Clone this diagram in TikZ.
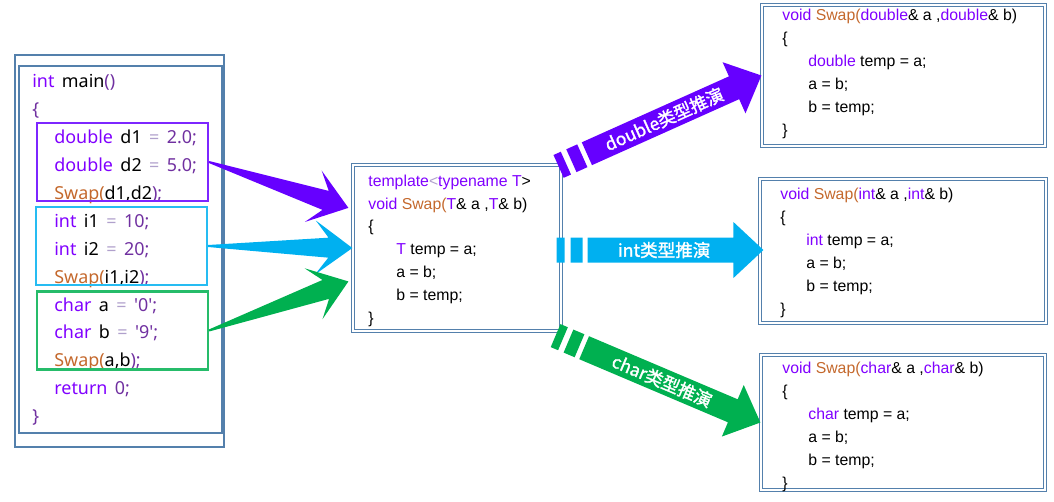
\documentclass[tikz,border=0pt]{standalone}
\usepackage{fontspec}
\usetikzlibrary{calc}
\newfontfamily\yahei{Noto Sans}[WordSpace=1.6]
\newfontfamily\codefont{Liberation Sans}
\newfontfamily\cjk{Noto Sans CJK SC}[AutoFakeBold=1.5]
\definecolor{frame}{RGB}{84,128,172}
\definecolor{kwcol}{RGB}{128,0,255}
\definecolor{fncol}{RGB}{196,104,44}
\definecolor{litcol}{RGB}{112,48,160}
\definecolor{opcol}{RGB}{176,160,204}
\definecolor{dblcol}{RGB}{102,0,255}
\definecolor{intcol}{RGB}{0,176,240}
\definecolor{chrcol}{RGB}{0,176,80}
\newcommand\kwd[1]{\textcolor{kwcol}{#1}}
\newcommand\fnc[1]{\textcolor{fncol}{#1}}
\newcommand\lit[1]{\textcolor{litcol}{#1}}
\newcommand\opr[1]{\textcolor{opcol}{#1}}
% tapering arrow: colour, from, to
\newcommand\wedgearrow[3]{%
  \fill[#1] let \p1=($(#3)-(#2)$), \n1={atan2(\y1,\x1)} in
    ($(#2)+({\n1+90}:0.02cm)$) -- ($(#3)+({\n1+180}:0.48cm)+({\n1+90}:0.2cm)$)
    -- ($(#3)+({\n1+180}:0.74cm)+({\n1+90}:0.54cm)$) -- (#3)
    -- ($(#3)+({\n1+180}:0.74cm)+({\n1-90}:0.54cm)$)
    -- ($(#3)+({\n1+180}:0.48cm)+({\n1-90}:0.2cm)$)
    -- ($(#2)+({\n1-90}:0.02cm)$) -- cycle;}
% block arrow with striped tail: colour, from, to, label
\newcommand\blockarrow[4]{%
  \fill[#1] let \p1=($(#3)-(#2)$), \n1={atan2(\y1,\x1)} in
    ($(#2)+({\n1+90}:0.25cm)$) -- ($(#2)+({\n1-90}:0.25cm)$)
    -- ($(#2)+(\n1:0.16cm)+({\n1-90}:0.25cm)$) -- ($(#2)+(\n1:0.16cm)+({\n1+90}:0.25cm)$) -- cycle
    ($(#2)+(\n1:0.28cm)+({\n1+90}:0.25cm)$) -- ($(#2)+(\n1:0.28cm)+({\n1-90}:0.25cm)$)
    -- ($(#2)+(\n1:0.52cm)+({\n1-90}:0.25cm)$) -- ($(#2)+(\n1:0.52cm)+({\n1+90}:0.25cm)$) -- cycle
    ($(#2)+(\n1:0.62cm)+({\n1+90}:0.25cm)$) -- ($(#3)+({\n1+180}:0.6cm)+({\n1+90}:0.25cm)$)
    -- ($(#3)+({\n1+180}:0.6cm)+({\n1+90}:0.56cm)$) -- (#3)
    -- ($(#3)+({\n1+180}:0.6cm)+({\n1-90}:0.56cm)$)
    -- ($(#3)+({\n1+180}:0.6cm)+({\n1-90}:0.25cm)$)
    -- ($(#2)+(\n1:0.62cm)+({\n1-90}:0.25cm)$) -- cycle
    ($(#2)!0.52!(#3)$) node[rotate=\n1, lbl] {#4};}

\begin{document}
\begin{tikzpicture}[
        x=0.02cm, y=-0.02cm,
        frm/.style={draw=frame, line width=1.5pt, rectangle, inner sep=0},
        codebox/.style={draw=frame, double=white, line width=0.7pt, double distance=0.8pt, rectangle, inner sep=0},
        grp/.style={rectangle, line width=1.2pt, inner sep=0, minimum width=3.42cm, minimum height=1.56cm},
        maincode/.style={align=left, inner sep=0, font=\yahei\fontsize{10.2}{15.9}\selectfont},
        code/.style={align=left, inner sep=0, font=\codefont\fontsize{9}{13}\selectfont},
        lbl/.style={text=white, inner sep=0, font=\cjk\bfseries\fontsize{10}{12}\selectfont}
    ]
    \useasboundingbox (0,0) rectangle (1054,501);

    % --- main() ---
    \node[frm, minimum width=4.18cm, minimum height=7.84cm] (mainbox) at (119.5,251) {};
    \node[frm, line width=1.1pt, minimum width=4.06cm, minimum height=7.34cm] (mainin) at (120.5,249.5) {};
    \node[maincode, anchor=north west] (maintxt) at (32,74) {%
        \kwd{int} main\lit{()}\\
        \lit{\{}\\
        \hspace*{0.44cm}\kwd{double} d1 \opr{=} \lit{2.0;}\\
        \hspace*{0.44cm}\kwd{double} d2 \opr{=} \lit{5.0;}\\
        \hspace*{0.44cm}\fnc{Swap(}d1,d2\lit{);}\\
        \hspace*{0.44cm}\kwd{int} i1 \opr{=} \lit{10;}\\
        \hspace*{0.44cm}\kwd{int} i2 \opr{=} \lit{20;}\\
        \hspace*{0.44cm}\fnc{Swap(}i1,i2\lit{);}\\
        \hspace*{0.44cm}\kwd{char} a \opr{=} \lit{'0';}\\
        \hspace*{0.44cm}\kwd{char} b \opr{=} \lit{'9';}\\
        \hspace*{0.44cm}\fnc{Swap(}a,b\lit{);}\\
        \hspace*{0.44cm}\kwd{return} \lit{0;}\\
        \lit{\}}};
    \node[grp, draw=dblcol!85!white] (dblgrp) at (122.5,162) {};
    \node[grp, draw=intcol!85!white] (intgrp) at (121.5,246) {};
    \node[grp, draw=chrcol!85!white] (chrgrp) at (122.5,330.5) {};

    % --- template ---
    \node[codebox, minimum width=4.16cm, minimum height=3.32cm] (tmpl) at (457,248) {};
    \node[code, anchor=north west] (tmpltxt) at (368,174.5) {%
        \kwd{template}\opr{<}\kwd{typename T}>\\
        \kwd{void} \fnc{Swap(}\kwd{T}\& a ,\kwd{T}\& b)\\
        \{\\
        \hspace*{0.56cm}\kwd{T} temp = a;\\
        \hspace*{0.56cm}a = b;\\
        \hspace*{0.56cm}b = temp;\\
        \}};

    % --- instances ---
    \node[codebox, minimum width=5.66cm, minimum height=2.82cm] (dblfn) at (903.5,75.5) {};
    \node[code, anchor=north west] (dbltxt) at (782,9) {%
        \kwd{void} \fnc{Swap(}\kwd{double}\& a ,\kwd{double}\& b)\\
        \{\\
        \hspace*{0.52cm}\kwd{double} temp = a;\\
        \hspace*{0.52cm}a = b;\\
        \hspace*{0.52cm}b = temp;\\
        \}};
    \node[codebox, minimum width=5.72cm, minimum height=2.88cm] (intfn) at (903,251) {};
    \node[code, anchor=north west] (inttxt) at (780,188) {%
        \kwd{void} \fnc{Swap(}\kwd{int}\& a ,\kwd{int}\& b)\\
        \{\\
        \hspace*{0.52cm}\kwd{int} temp = a;\\
        \hspace*{0.52cm}a = b;\\
        \hspace*{0.52cm}b = temp;\\
        \}};
    \node[codebox, minimum width=5.68cm, minimum height=2.70cm] (chrfn) at (903,422.5) {};
    \node[code, anchor=north west] (chrtxt) at (782,362) {%
        \kwd{void} \fnc{Swap(}\kwd{char}\& a ,\kwd{char}\& b)\\
        \{\\
        \hspace*{0.52cm}\kwd{char} temp = a;\\
        \hspace*{0.52cm}a = b;\\
        \hspace*{0.52cm}b = temp;\\
        \}};

    % --- calls into the template ---
    \coordinate (tin1) at ($(tmpl.north west)!0.26!(tmpl.south west)+(-4,0)$);
    \coordinate (tin3) at ($(tmpl.north west)!0.70!(tmpl.south west)+(-4,0)$);
    \wedgearrow{dblcol}{dblgrp.east}{tin1}
    \wedgearrow{intcol}{intgrp.east}{tmpl.west}
    \wedgearrow{chrcol}{chrgrp.east}{tin3}

    % --- deduction ---
    \coordinate (tout1) at ($(tmpl.north east)+(-3,2)$);
    \coordinate (tout2) at ($(tmpl.east)+(-5,2)$);
    \coordinate (tout3) at ($(tmpl.south east)+(-6,4)$);
    \coordinate (fin2) at ($(intfn.west)+(4,-1)$);
    \blockarrow{dblcol}{tout1}{dblfn.west}{double类型推演}
    \blockarrow{intcol}{tout2}{fin2}{int类型推演}
    \blockarrow{chrcol}{tout3}{chrfn.west}{char类型推演}
\end{tikzpicture}
\end{document}
